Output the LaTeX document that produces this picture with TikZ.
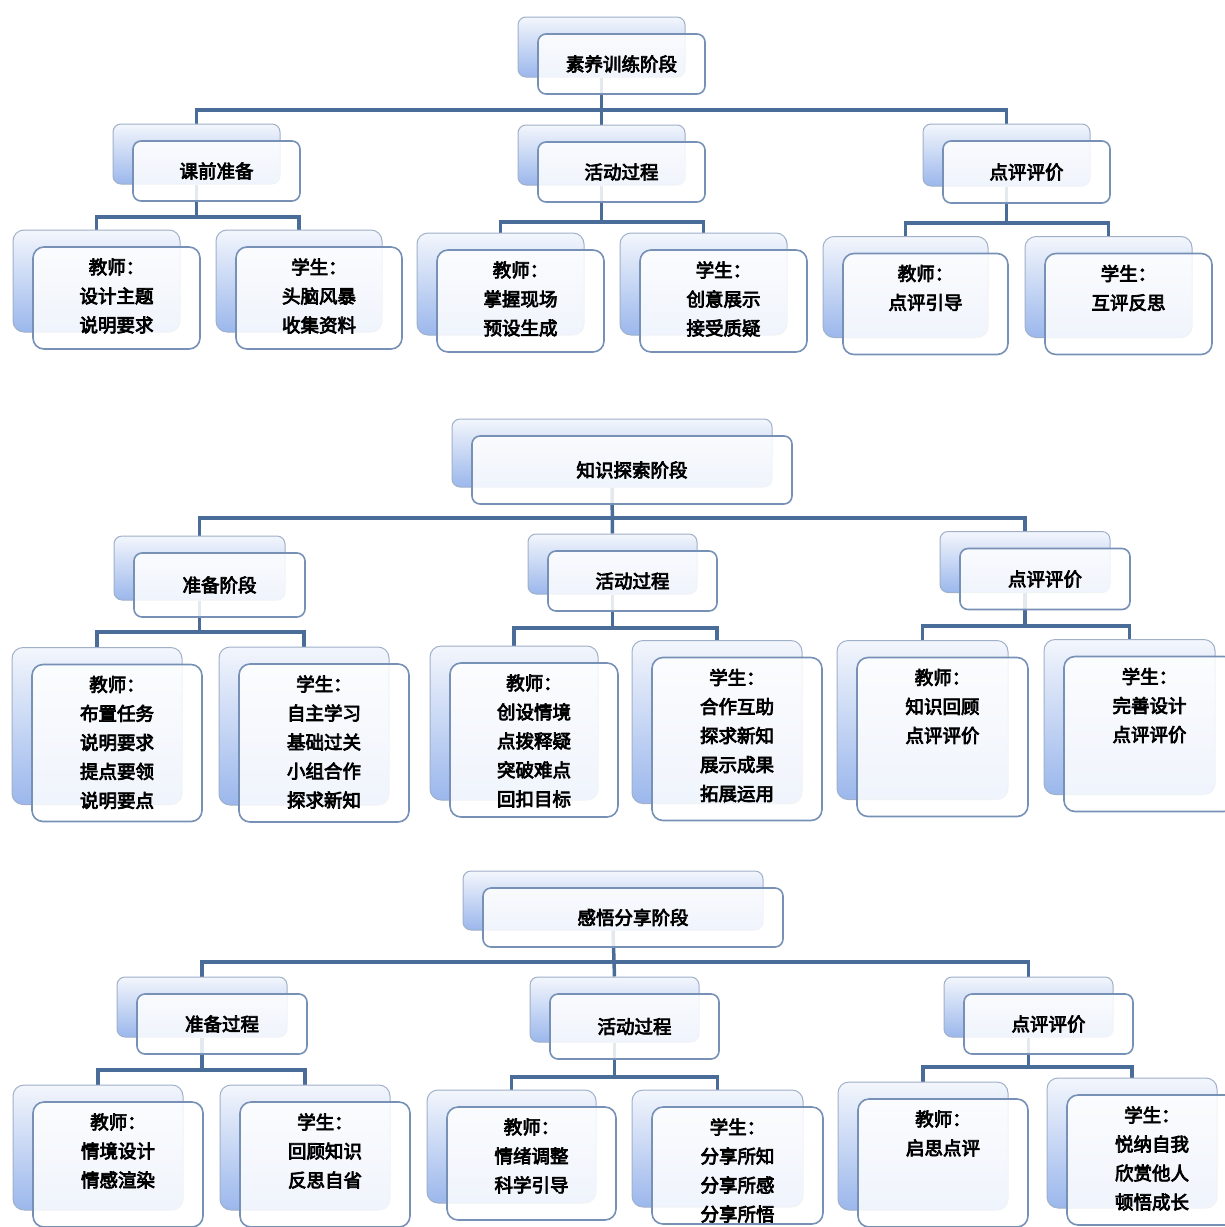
\documentclass[tikz,border=0pt]{standalone}
\usepackage{fontspec}
\newfontfamily\cjk[FakeBold=4]{Noto Sans CJK SC}
\usetikzlibrary{positioning,backgrounds}

\definecolor{linkblue}{RGB}{74,108,152}
\definecolor{edgeblue}{RGB}{118,144,182}
\definecolor{backedge}{RGB}{160,176,200}
\definecolor{shadetop}{RGB}{243,246,252}
\definecolor{shadebot}{RGB}{155,183,236}

\tikzset{
	backbox/.style={draw=backedge, line width=1pt, top color=shadetop, bottom color=shadebot, inner sep=0pt},
	frontbox/.style={draw=edgeblue, line width=1.6pt, fill=white, fill opacity=0.85, text opacity=1, inner sep=0pt},
	lbl/.style={font=\cjk\fontsize{18.5}{29}\selectfont, align=center, inner sep=0pt},
	link/.style={draw=linkblue, line width=3.5pt},
}

% back box + front box, text in the middle
\newcommand{\duo}[6]{%
	\node[backbox, rounded corners=8pt, minimum width=#4pt, minimum height=#5pt] (#1b) at (#2,#3) {};
	\node[frontbox, lbl, rounded corners=8pt, minimum width=#4pt, minimum height=#5pt] (#1f) at ([shift={(20,17)}]#1b.center) {#6};
}
% lower boxes, text hung from the top
\newcommand{\leaf}[6]{%
	\node[backbox, rounded corners=11pt, minimum width=#4pt, minimum height=#5pt] (#1b) at (#2,#3) {};
	\node[frontbox, rounded corners=11pt, minimum width=#4pt, minimum height=#5pt] (#1f) at ([shift={(20,17)}]#1b.center) {};
	\node[lbl, below=12pt of #1f.north] (#1t) {#6};
}

\begin{document}
\begin{tikzpicture}[x=1pt, y=-1pt]
	\clip (0,0) rectangle (1225,1227);
	% first tree
	\duo{r1}{601.5}{47}{167}{60}{素养训练阶段}
	\duo{a1}{196.5}{154}{167}{60}{课前准备}
	\duo{b1}{601.5}{155}{167}{60}{活动过程}
	\duo{c1}{1006.5}{155}{167}{62}{点评评价}
	\leaf{a1t}{96.5}{281}{167}{102}{教师：\\设计主题\\说明要求}
	\leaf{a1s}{299}{281}{166}{102}{学生：\\头脑风暴\\收集资料}
	\leaf{b1t}{500.5}{284}{167}{102}{教师：\\掌握现场\\预设生成}
	\leaf{b1s}{703.5}{284}{167}{102}{学生：\\创意展示\\接受质疑}
	\leaf{c1t}{905.5}{287}{165}{101}{教师：\\点评引导}
	\leaf{c1s}{1108.5}{287}{167}{101}{学生：\\互评反思}
	% second tree
	\duo{r2}{612}{453}{320}{68}{知识探索阶段}
	\duo{a2}{199.5}{568}{171}{64}{准备阶段}
	\duo{b2}{612.5}{564}{169}{60}{活动过程}
	\duo{c2}{1025}{562}{170}{61}{点评评价}
	\leaf{a2t}{97}{726}{170}{157}{教师：\\布置任务\\说明要求\\提点要领\\说明要点}
	\leaf{a2s}{304}{726}{170}{158}{学生：\\自主学习\\基础过关\\小组合作\\探求新知}
	\leaf{b2t}{514}{723}{168}{154}{教师：\\创设情境\\点拨释疑\\突破难点\\回扣目标}
	\leaf{b2s}{717}{722}{170}{163}{学生：\\合作互助\\探求新知\\展示成果\\拓展运用}
	\leaf{c2t}{922.5}{720}{171}{159}{教师：\\知识回顾\\点评评价}
	\leaf{c2s}{1129.5}{717}{171}{155}{学生：\\完善设计\\点评评价}
	% third tree
	\duo{r3}{613}{900.5}{300}{59}{感悟分享阶段}
	\duo{a3}{202}{1007}{170}{60}{准备过程}
	\duo{b3}{614.5}{1009.5}{169}{65}{活动过程}
	\duo{c3}{1028.5}{1007}{169}{60}{点评评价}
	\leaf{a3t}{98}{1147.5}{170}{125}{教师：\\情境设计\\情感渲染}
	\leaf{a3s}{305}{1147.5}{170}{125}{学生：\\回顾知识\\反思自省}
	\leaf{b3t}{511.5}{1146.5}{169}{113}{教师：\\情绪调整\\科学引导}
	\leaf{b3s}{717.5}{1148.5}{171}{117}{学生：\\分享所知\\分享所感\\分享所悟}
	\leaf{c3t}{923}{1146}{170}{128}{教师：\\启思点评}
	\leaf{c3s}{1132}{1143}{170}{130}{学生：\\悦纳自我\\欣赏他人\\顿悟成长}
	% bus heights
	\coordinate (bus1) at (0,110);
	\coordinate (bus1a) at (0,217);
	\coordinate (bus1b) at (0,222);
	\coordinate (bus1c) at (0,223);
	\coordinate (bus2) at (0,518);
	\coordinate (bus2a) at (0,632);
	\coordinate (bus2b) at (0,628);
	\coordinate (bus2c) at (0,626);
	\coordinate (bus3) at (0,962);
	\coordinate (bus3a) at (0,1070);
	\coordinate (bus3b) at (0,1077);
	\coordinate (bus3c) at (0,1067);
	% connectors behind the boxes
	\begin{scope}[on background layer]
		\foreach \t in {1,2,3}{
			\draw[link] (r\t b.south) -- (b\t b.north);
			\draw[link] (a\t b.north) |- (c\t b.north |- bus\t) -- (c\t b.north);
			\foreach \p in {a,b,c}{
				\draw[link] (\p\t b.south) -- (\p\t b.south |- bus\t\p);
				\draw[link] (\p\t tb.north) |- (\p\t sb.north |- bus\t\p) -- (\p\t sb.north);
			}
		}
	\end{scope}
\end{tikzpicture}
\end{document}
